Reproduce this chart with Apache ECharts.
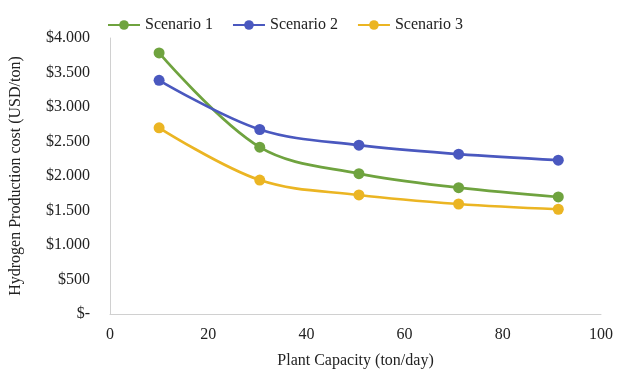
<!DOCTYPE html>
<html>
<head>
<meta charset="utf-8">
<script src="https://cdn.jsdelivr.net/npm/echarts@6/dist/echarts.min.js"></script>
<style>html,body{margin:0;padding:0;background:#fff;}#c{width:618px;height:374px;}</style>
</head>
<body>
<div id="c"></div>
<script>
const capacities = [10, 30.5, 50.7, 71, 91.3];
const scenario1 = [3783, 2418, 2034, 1831, 1696];
const scenario2 = [3387, 2674, 2447, 2317, 2230];
const scenario3 = [2699, 1941, 1725, 1594, 1518];
const seriesNames = ['Scenario 1', 'Scenario 2', 'Scenario 3'];
const colors = ['#6FA33F', '#4A58BF', '#EBB523'];

function pairs(vals) { return capacities.map((x, i) => [x, vals[i]]); }
function fmtY(v) {
  if (v === 0) return '$-';
  const s = String(Math.round(v)).replace(/\B(?=(\d{3})+(?!\d))/g, '.');
  return '$' + s;
}
const font = 'Liberation Serif';
const chart = echarts.init(document.getElementById('c'));
const mk = (name, vals, color) => ({
  name: name, type: 'line', data: pairs(vals), smooth: 0.35,
  symbol: 'circle', symbolSize: 11, showSymbol: true,
  lineStyle: { color: color, width: 2.7 },
  itemStyle: { color: color }
});
chart.setOption({
  animation: false,
  color: colors,
  textStyle: { fontFamily: font },
  legend: {
    data: seriesNames, left: 102, top: 12, itemWidth: 32, itemHeight: 12, itemGap: 19,
    textStyle: { fontFamily: font, fontSize: 16, color: '#222' }
  },
  grid: { left: 110, right: 17, top: 38, bottom: 59 },
  xAxis: {
    type: 'value', min: 0, max: 100, interval: 20,
    name: 'Plant Capacity (ton/day)', nameLocation: 'middle', nameGap: 39,
    nameTextStyle: { fontFamily: font, fontSize: 16, color: '#222' },
    axisLine: { show: true, lineStyle: { color: '#d0d0d0', width: 1 } },
    axisTick: { show: false }, splitLine: { show: false },
    axisLabel: { fontFamily: font, fontSize: 16, color: '#222', margin: 13 }
  },
  yAxis: {
    type: 'value', min: 0, max: 4000, interval: 500,
    name: 'Hydrogen Production cost (USD/ton)', nameLocation: 'middle', nameGap: 86,
    nameTextStyle: { fontFamily: font, fontSize: 16, color: '#222' },
    axisLine: { show: true, lineStyle: { color: '#d0d0d0', width: 1 } },
    axisTick: { show: false }, splitLine: { show: false },
    axisLabel: { fontFamily: font, fontSize: 16, color: '#222', margin: 20, formatter: fmtY }
  },
  series: [
    mk(seriesNames[0], scenario1, colors[0]),
    mk(seriesNames[1], scenario2, colors[1]),
    mk(seriesNames[2], scenario3, colors[2])
  ]
});
</script>
</body>
</html>
